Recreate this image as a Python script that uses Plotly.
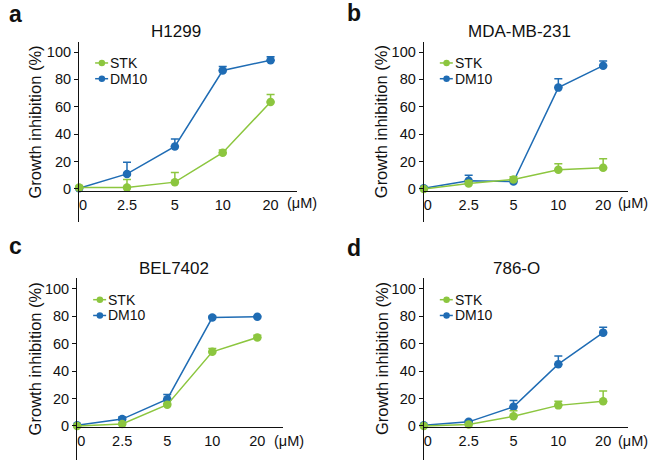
import plotly.graph_objects as go

W, H = 650, 461

# ---- data ----
doses = ["0", "2.5", "5", "10", "20"]
dose_labels = ["\u00a0\u00a00", "2.5", "5", "10", "20"]
y_ticks = [0, 20, 40, 60, 80, 100]
unit_label = "(μM)"
series_names = ["STK", "DM10"]

titles = ["H1299", "MDA-MB-231", "BEL7402", "786-O"]
letters = ["a", "b", "c", "d"]

stk_h1299 = [1, 1, 5, 26.5, 63.5]
stk_h1299_err = [1.5, 6, 7, 2, 5.5]
dm10_h1299 = [0.5, 11, 31, 86.5, 94]
dm10_h1299_err = [0.5, 8.5, 5.5, 3, 2.5]

stk_mda = [0, 4, 7, 14, 15.5]
stk_mda_err = [0.5, 2, 2, 4.5, 6.5]
dm10_mda = [0.5, 6, 5.5, 74, 90]
dm10_mda_err = [0.5, 4, 1, 6.5, 3.5]

stk_bel = [0, 1.5, 15.5, 54, 64.5]
stk_bel_err = [0.3, 0.5, 1, 2.5, 1.5]
dm10_bel = [0.5, 5, 19.5, 79, 79.5]
dm10_bel_err = [0.3, 1.5, 3.5, 1, 0.5]

stk_786 = [0, 1, 7, 15, 18]
stk_786_err = [0.3, 0.5, 4, 3, 7.5]
dm10_786 = [0.5, 3, 14, 45, 68]
dm10_786_err = [0.3, 1, 4.5, 6, 4]

panels_stk = [(stk_h1299, stk_h1299_err), (stk_mda, stk_mda_err),
              (stk_bel, stk_bel_err), (stk_786, stk_786_err)]
panels_dm = [(dm10_h1299, dm10_h1299_err), (dm10_mda, dm10_mda_err),
             (dm10_bel, dm10_bel_err), (dm10_786, dm10_786_err)]

# ---- styles / layout (pixels) ----
GREEN = "#8cc63f"
BLUE = "#1f6cb4"
FONT = "Liberation Sans, Arial, sans-serif"

# (x_left, x_right, y_top, y_bottom, x_axis_y, yrange)
geom = [
    (72, 293, 42, 222, 191, [-24.1, 107.3]),
    (421, 628, 42, 222, 191, [-24.1, 107.3]),
    (70, 278, 278, 460, 427, [-24.8, 107.8]),
    (421, 628, 278, 460, 427, [-24.8, 107.8]),
]
title_pos = [(170, 31), (518, 31), (168, 268), (515, 268)]
letter_pos = [(8, 14), (350, 13), (8, 246), (350, 248)]
ytitle_x = [27, 378, 27, 378]
unit_pos = [(298, 203), (633, 203), (284, 441), (633, 441)]

fig = go.Figure()
layout = dict(
    width=W, height=H, margin=dict(l=0, r=0, t=0, b=0),
    paper_bgcolor="white", plot_bgcolor="rgba(0,0,0,0)",
    showlegend=False, font=dict(family=FONT, color="#111", size=14),
)
annotations = []
shapes = []

for i in range(4):
    xl, xr, yt, yb, xay, yr = geom[i]
    xn = "x" if i == 0 else f"x{i+1}"
    yn = "y" if i == 0 else f"y{i+1}"
    xk = "xaxis" if i == 0 else f"xaxis{i+1}"
    yk = "yaxis" if i == 0 else f"yaxis{i+1}"

    layout[xk] = dict(
        domain=[xl / W, xr / W], anchor="free", position=1 - xay / H,
        type="category", range=[0, 4.56],
        tickvals=doses, ticktext=dose_labels, ticks="",
        showline=True, linecolor="#111", linewidth=1.3,
        showgrid=False, zeroline=False, tickfont=dict(size=14.5),
    )
    layout[yk] = dict(
        domain=[1 - yb / H, 1 - yt / H], anchor=xn, range=yr,
        tickvals=y_ticks, ticks="outside", ticklen=4, tickwidth=1.2,
        tickcolor="#111", showline=True, linecolor="#111", linewidth=1.3,
        showgrid=False, zeroline=False, tickfont=dict(size=14.5),
    )

    for (vals, err), color, name in [(panels_dm[i], BLUE, series_names[1]),
                                      (panels_stk[i], GREEN, series_names[0])]:
        fig.add_trace(go.Scatter(
            x=doses, y=vals, mode="lines+markers", name=name,
            xaxis=xn, yaxis=yn, cliponaxis=False,
            line=dict(color=color, width=1.5),
            marker=dict(color=color, size=8.5),
            error_y=dict(type="data", symmetric=False, array=err,
                         arrayminus=[0] * len(err), color=color,
                         thickness=1.5, width=4),
        ))

    # legend
    for name, color, yv in [(series_names[0], GREEN, 92), (series_names[1], BLUE, 80.5)]:
        shapes.append(dict(type="line", xref=f"{xn} domain", yref=yn,
                           xsizemode="pixel", xanchor=0, x0=16, x1=29,
                           y0=yv, y1=yv, line=dict(color=color, width=1.5)))
        shapes.append(dict(type="circle", xref=f"{xn} domain", yref=yn,
                           xsizemode="pixel", ysizemode="pixel",
                           xanchor=0, yanchor=yv, x0=19.5, x1=26, y0=-3.25, y1=3.25,
                           fillcolor=color, line=dict(color=color, width=0)))
        annotations.append(dict(text=name, xref=f"{xn} domain", yref=yn,
                                x=0, xshift=29, y=yv, xanchor="left",
                                yanchor="middle", showarrow=False,
                                font=dict(size=14, color="#111")))

    # titles
    tx, ty = title_pos[i]
    annotations.append(dict(text=titles[i], xref="paper", yref="paper",
                            x=tx / W, y=1 - ty / H, xanchor="center",
                            yanchor="middle", showarrow=False,
                            font=dict(size=17, color="#111")))
    lx, ly = letter_pos[i]
    annotations.append(dict(text=f"<b>{letters[i]}</b>", xref="paper", yref="paper",
                            x=lx / W, y=1 - ly / H, xanchor="center",
                            yanchor="middle", showarrow=False,
                            font=dict(size=23, color="#111")))
    annotations.append(dict(text="Growth inhibition (%)", xref="paper", yref=yn,
                            x=ytitle_x[i] / W, y=49, xanchor="center",
                            yanchor="middle", textangle=-90, showarrow=False,
                            font=dict(size=16.5, color="#111")))
    ux, uy = unit_pos[i]
    annotations.append(dict(text=unit_label, xref="paper", yref="paper",
                            x=ux / W, y=1 - uy / H, xanchor="center",
                            yanchor="middle", showarrow=False,
                            font=dict(size=14.5, color="#111")))

layout["annotations"] = annotations
layout["shapes"] = shapes
fig.update_layout(**layout)
fig.write_html("out.html",
               config={"displayModeBar": False},
               post_script="document.body.style.margin='0px';document.body.style.padding='0px';")
